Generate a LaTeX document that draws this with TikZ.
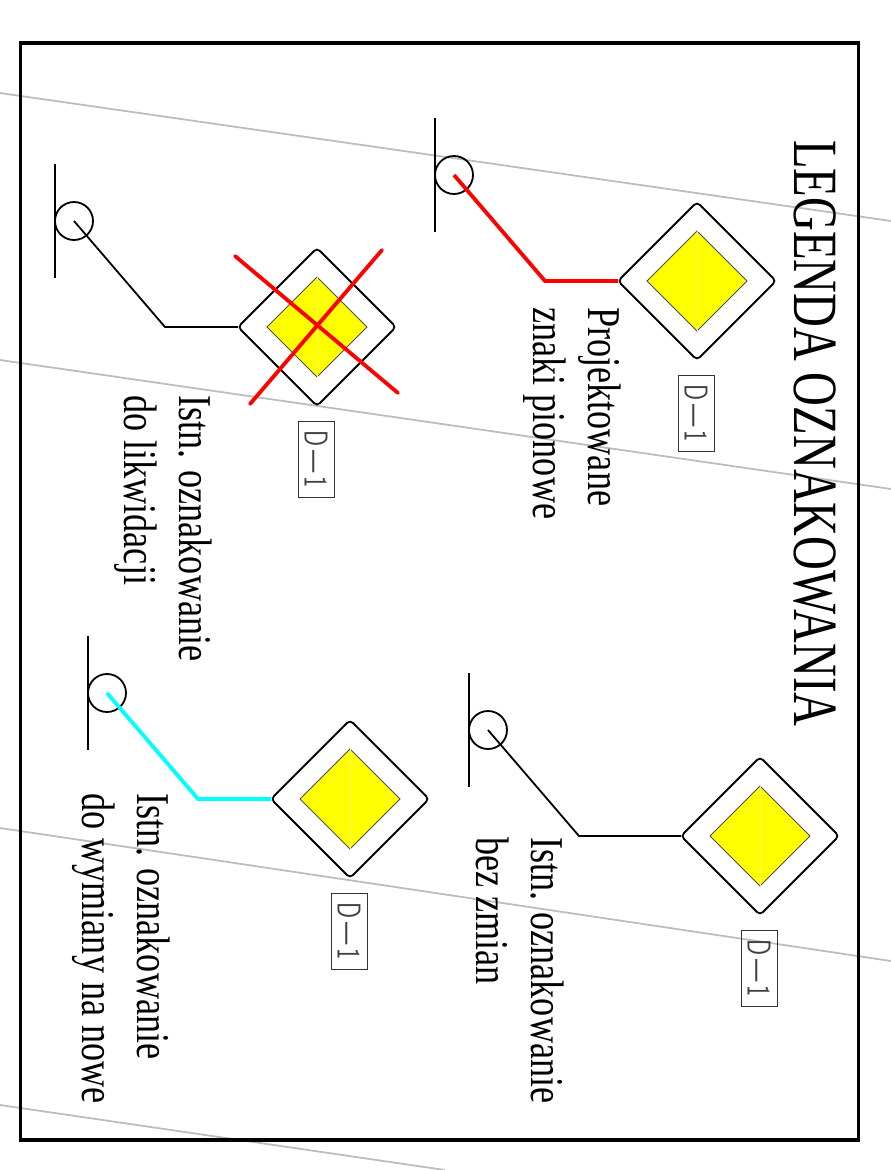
\documentclass[tikz,border=0pt]{standalone}
\usepackage{fontspec}
\setmainfont{Liberation Serif}
\usepackage{xcolor}
\usetikzlibrary{shapes.geometric}
\definecolor{gridgray}{HTML}{BDBDBD}
\definecolor{signyellow}{HTML}{FFFF00}
\definecolor{signcyan}{HTML}{00FFFF}
\begin{document}
\begin{tikzpicture}[x=1pt,y=-1pt,
        caption/.style={rotate=-90,xscale=.77,anchor=north west,align=left,inner sep=0pt,
          font=\fontsize{47}{55}\selectfont},
        signouter/.style={diamond,draw=black,fill=white,line width=1.8pt,rounded corners=4pt,
          minimum width=158pt,minimum height=158pt,inner sep=0pt,outer sep=0pt},
        signinner/.style={diamond,draw=black!70,fill=signyellow,line width=.8pt,
          minimum width=100pt,minimum height=100pt,inner sep=0pt,outer sep=0pt},
        post/.style={circle,draw=black,line width=1.8pt,minimum size=38pt,inner sep=0pt},
        tag/.style={draw=black!80,line width=.8pt,minimum width=36pt,minimum height=76pt,inner sep=0pt},
        tagtext/.style={rotate=-90,xscale=.72,inner sep=0pt,text=black!75,
          font=\sffamily\fontsize{33}{33}\selectfont}]
      \useasboundingbox (0,0) rectangle (891,1170);
      % grey lines behind everything
      \draw[gridgray,line width=1.8pt] (0,93) -- (891,221);
      \draw[gridgray,line width=1.8pt] (0,360) -- (891,489);
      \draw[gridgray,line width=1.8pt] (0,828) -- (891,961);
      \draw[gridgray,line width=1.8pt] (0,1105) -- (445,1170);
      \node[rotate=-90,xscale=.743,anchor=north west,inner sep=0pt,
        font=\fontsize{63}{63}\selectfont] (title) at (836,140) {LEGENDA OZNAKOWANIA};
      % the four signs
      \foreach \n/\px/\py/\shft/\col/\lw in {1/697/281/243/red/3.8pt,2/317/327/243/black/1.8pt,
          3/760/836/272/black/1.8pt,4/350/799/243/signcyan/3.8pt} {
        \node[signouter] (d\n) at (\px,\py) {};
        \node[signinner] (y\n) at (d\n.center) {};
        \draw[signyellow!60!white,line width=.8pt] (y\n.north) -- (y\n.south);
        \node[post] (c\n) at (\px-\shft,\py-106) {};
        \coordinate (e\n) at (\px-\shft+91,\py);
        \coordinate (b\n) at (\px-\shft-19,\py-163);
        \coordinate (f\n) at (\px-\shft-19,\py-49);
        \draw[black,line width=1.8pt] (b\n) -- (f\n);
        \draw[\col,line width=\lw,line join=miter] (c\n.center) -- (e\n) -- (d\n.west);
        \node[tag] (t\n) at (\px-1,\py+132) {};
        \node[tagtext] (l\n) at (t\n.center) {D\,---\,1};
      }
      % crossed out sign
      \coordinate (x1) at (235,256);
      \coordinate (x2) at (398,393);
      \coordinate (x3) at (382,250);
      \coordinate (x4) at (250,404);
      \draw[red,line width=3.8pt,line cap=round] (x1) -- (x2);
      \draw[red,line width=3.8pt,line cap=round] (x3) -- (x4);
      \node[caption] (n1) at (621,307) {Projektowane\\znaki pionowe};
      \node[caption] (n2) at (212,395) {Istn. oznakowanie\\do likwidacji};
      \node[caption] (n3) at (564,837) {Istn. oznakowanie\\bez zmian};
      \node[caption] (n4) at (170,793) {Istn. oznakowanie\\do wymiany na nowe};
      \node[draw=black,line width=3.4pt,minimum width=838pt,minimum height=1097pt,
        inner sep=0pt,fill=none] (frame) at (439.5,591.5) {};
    \end{tikzpicture}
\end{document}
